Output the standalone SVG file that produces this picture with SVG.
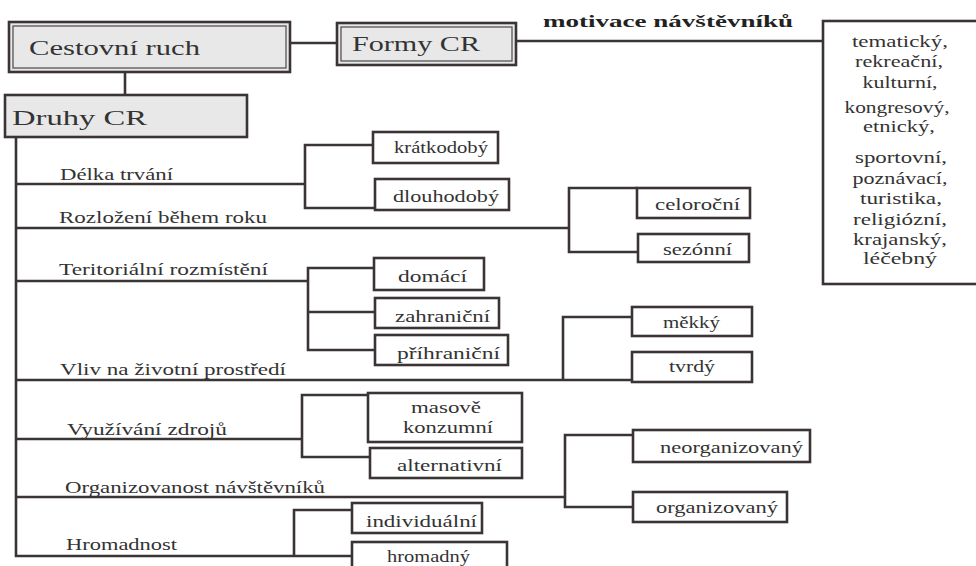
<svg xmlns="http://www.w3.org/2000/svg" width="976" height="566" viewBox="0 0 976 566">
<style>
.c{fill:none;stroke:#3a3434;stroke-width:2.6}
.b{fill:#fff;stroke:#3a3434;stroke-width:2.6}
.g{fill:#e8e8e8;stroke:#3a3434;stroke-width:2.6}
.gi{fill:none;stroke:#555;stroke-width:1.3}
text{font-family:'Liberation Serif','DejaVu Serif','Times New Roman',serif;fill:#333;font-size:16px}
.big{font-size:21px}
.bold{font-weight:bold;font-size:17px;fill:#222}
.m{text-anchor:middle}
</style>
<rect width="976" height="566" fill="#fff"/>
<g id="connectors">
<path class="c" d="M125,72V95"/>
<path class="c" d="M290,43H337"/>
<path class="c" d="M516,41H823"/>
<path class="c" d="M16,137V556H352"/>
<path class="c" d="M16,184H305"/>
<path class="c" d="M373,145H305V208H375"/>
<path class="c" d="M16,228H569"/>
<path class="c" d="M637,188H569V252H638"/>
<path class="c" d="M16,281H308"/>
<path class="c" d="M374,268H308V350H375"/>
<path class="c" d="M308,312H375"/>
<path class="c" d="M16,380H632"/>
<path class="c" d="M563,380V317H632"/>
<path class="c" d="M16,439H302"/>
<path class="c" d="M368,395H302V457H370"/>
<path class="c" d="M16,497H565"/>
<path class="c" d="M633,435H565V507H633"/>
<path class="c" d="M352,510H294V556"/>
</g>
<text class="bold" x="543" y="27" textLength="250" lengthAdjust="spacingAndGlyphs">motivace návštěvníků</text>
<g id="cestovni-ruch">
<rect class="g" x="9" y="22" width="281" height="50"/>
<rect class="gi" x="13" y="26" width="273" height="42"/>
<text class="big" x="29" y="55" textLength="171" lengthAdjust="spacingAndGlyphs">Cestovní ruch</text>
</g>
<g id="formy-cr">
<rect class="g" x="337" y="23" width="179" height="42"/>
<rect class="gi" x="341" y="27" width="171" height="34"/>
<text class="big" x="352" y="51" textLength="128" lengthAdjust="spacingAndGlyphs">Formy CR</text>
</g>
<g id="druhy-cr">
<rect class="g" x="5" y="95" width="242" height="42"/>
<text class="big" x="12" y="125" textLength="135" lengthAdjust="spacingAndGlyphs">Druhy CR</text>
</g>
<g id="formy-list">
<rect class="b" x="823" y="21" width="160" height="263"/>
<text class="m" x="900" y="47" textLength="96" lengthAdjust="spacingAndGlyphs">tematický,</text>
<text class="m" x="899" y="67" textLength="88" lengthAdjust="spacingAndGlyphs">rekreační,</text>
<text class="m" x="900" y="88" textLength="75" lengthAdjust="spacingAndGlyphs">kulturní,</text>
<text class="m" x="897" y="113" textLength="105" lengthAdjust="spacingAndGlyphs">kongresový,</text>
<text class="m" x="899" y="132" textLength="72" lengthAdjust="spacingAndGlyphs">etnický,</text>
<text class="m" x="901" y="163" textLength="92" lengthAdjust="spacingAndGlyphs">sportovní,</text>
<text class="m" x="900" y="184" textLength="95" lengthAdjust="spacingAndGlyphs">poznávací,</text>
<text class="m" x="901" y="204" textLength="82" lengthAdjust="spacingAndGlyphs">turistika,</text>
<text class="m" x="900" y="225" textLength="94" lengthAdjust="spacingAndGlyphs">religiózní,</text>
<text class="m" x="900" y="245" textLength="94" lengthAdjust="spacingAndGlyphs">krajanský,</text>
<text class="m" x="900" y="264" textLength="74" lengthAdjust="spacingAndGlyphs">léčebný</text>
</g>
<g id="labels">
<text x="60" y="180" textLength="113" lengthAdjust="spacingAndGlyphs">Délka trvání</text>
<text x="59" y="223" textLength="208" lengthAdjust="spacingAndGlyphs">Rozložení během roku</text>
<text x="59" y="275" textLength="209" lengthAdjust="spacingAndGlyphs">Teritoriální rozmístění</text>
<text x="60" y="375" textLength="226" lengthAdjust="spacingAndGlyphs">Vliv na životní prostředí</text>
<text x="67" y="435" textLength="160" lengthAdjust="spacingAndGlyphs">Využívání zdrojů</text>
<text x="65" y="493" textLength="260" lengthAdjust="spacingAndGlyphs">Organizovanost návštěvníků</text>
<text x="66" y="550" textLength="111" lengthAdjust="spacingAndGlyphs">Hromadnost</text>
</g>
<g id="kratkodoby"><rect class="b" x="373" y="132" width="125" height="31"/><text x="394" y="153" textLength="94" lengthAdjust="spacingAndGlyphs">krátkodobý</text></g>
<g id="dlouhodoby"><rect class="b" x="375" y="179" width="134" height="31"/><text x="393" y="202" textLength="106" lengthAdjust="spacingAndGlyphs">dlouhodobý</text></g>
<g id="celorocni"><rect class="b" x="637" y="188" width="113" height="30"/><text x="655" y="210" textLength="85" lengthAdjust="spacingAndGlyphs">celoroční</text></g>
<g id="sezonni"><rect class="b" x="638" y="234" width="111" height="28"/><text x="663" y="255" textLength="69" lengthAdjust="spacingAndGlyphs">sezónní</text></g>
<g id="domaci"><rect class="b" x="374" y="258" width="110" height="32"/><text x="398" y="282" textLength="69" lengthAdjust="spacingAndGlyphs">domácí</text></g>
<g id="zahranicni"><rect class="b" x="375" y="298" width="124" height="30"/><text x="395" y="322" textLength="95" lengthAdjust="spacingAndGlyphs">zahraniční</text></g>
<g id="prihranicni"><rect class="b" x="375" y="335" width="133" height="30"/><text x="397" y="359" textLength="103" lengthAdjust="spacingAndGlyphs">příhraniční</text></g>
<g id="mekky"><rect class="b" x="632" y="307" width="120" height="29"/><text x="663" y="328" textLength="57" lengthAdjust="spacingAndGlyphs">měkký</text></g>
<g id="tvrdy"><rect class="b" x="632" y="352" width="120" height="30"/><text x="669" y="372" textLength="46" lengthAdjust="spacingAndGlyphs">tvrdý</text></g>
<g id="masove-konzumni"><rect class="b" x="368" y="393" width="154" height="49"/><text class="m" x="446" y="413" textLength="70" lengthAdjust="spacingAndGlyphs">masově</text><text x="403" y="433" textLength="90" lengthAdjust="spacingAndGlyphs">konzumní</text></g>
<g id="alternativni"><rect class="b" x="370" y="448" width="152" height="30"/><text x="397" y="471" textLength="105" lengthAdjust="spacingAndGlyphs">alternativní</text></g>
<g id="neorganizovany"><rect class="b" x="633" y="430" width="177" height="32"/><text x="660" y="453" textLength="143" lengthAdjust="spacingAndGlyphs">neorganizovaný</text></g>
<g id="organizovany"><rect class="b" x="633" y="492" width="154" height="30"/><text x="656" y="513" textLength="122" lengthAdjust="spacingAndGlyphs">organizovaný</text></g>
<g id="individualni"><rect class="b" x="352" y="503" width="130" height="30"/><text x="366" y="527" textLength="111" lengthAdjust="spacingAndGlyphs">individuální</text></g>
<g id="hromadny"><rect class="b" x="352" y="542" width="155" height="40"/><text x="387" y="562" textLength="83" lengthAdjust="spacingAndGlyphs">hromadný</text></g>
</svg>
